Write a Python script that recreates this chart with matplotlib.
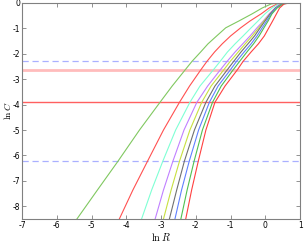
import matplotlib
matplotlib.use("Agg")
import matplotlib.pyplot as plt

plt.rcParams['mathtext.fontset'] = 'cm'
plt.rcParams['axes.unicode_minus'] = False

# ln C levels shared by the traced curves (last point is the plateau at ln R = 1)
lnC = [-8.50, -7.36, -6.23, -5.00, -3.91, -3.27, -2.64, -2.30, -1.93, -1.61,
       -1.30, -0.98, -0.71, -0.43, -0.20, -0.04, 0.0, 0.0]

# ln R of each curve at those levels
lnR_1 = [-5.42, -4.83, -4.24, -3.62, -3.03, -2.68, -2.31, -2.11, -1.86, -1.65,
         -1.40, -1.14, -0.76, -0.38, -0.09, 0.17, 0.42, 1.0]
lnR_2 = [-4.20, -3.81, -3.39, -2.93, -2.47, -2.18, -1.86, -1.68, -1.46, -1.24,
         -1.00, -0.71, -0.44, -0.12, 0.11, 0.34, 0.51, 1.0]
lnR_3 = [-3.56, -3.27, -2.95, -2.58, -2.17, -1.88, -1.50, -1.30, -1.09, -0.87,
         -0.64, -0.41, -0.21, -0.01, 0.19, 0.38, 0.54, 1.0]
lnR_4 = [-3.17, -2.93, -2.66, -2.34, -1.97, -1.66, -1.30, -1.10, -0.87, -0.65,
         -0.44, -0.24, -0.06, 0.11, 0.28, 0.42, 0.60, 1.0]
lnR_5 = [-2.93, -2.71, -2.47, -2.17, -1.83, -1.56, -1.20, -1.01, -0.78, -0.58,
         -0.38, -0.19, -0.04, 0.14, 0.31, 0.45, 0.63, 1.0]
lnR_6 = [-2.76, -2.55, -2.33, -2.04, -1.71, -1.45, -1.10, -0.91, -0.70, -0.50,
         -0.31, -0.15, -0.01, 0.14, 0.29, 0.48, 0.65, 1.0]
lnR_7 = [-2.60, -2.41, -2.19, -1.92, -1.61, -1.36, -1.01, -0.83, -0.61, -0.41,
         -0.24, -0.09, 0.04, 0.17, 0.31, 0.50, 0.68, 1.0]
lnR_8 = [-2.43, -2.25, -2.05, -1.81, -1.52, -1.27, -0.93, -0.74, -0.53, -0.34,
         -0.18, -0.04, 0.08, 0.19, 0.34, 0.51, 0.71, 1.0]
lnR_9 = [-2.29, -2.12, -1.93, -1.71, -1.45, -1.16, -0.81, -0.64, -0.41, -0.20,
         -0.03, 0.10, 0.21, 0.32, 0.41, 0.54, 0.74, 1.0]

curves = [lnR_1, lnR_2, lnR_3, lnR_4, lnR_5, lnR_6, lnR_7, lnR_8, lnR_9]
colors = ['#80c860', '#ff5050', '#7fffd4', '#c080ff', '#c8e040',
          '#707070', '#6080ff', '#50c050', '#ff4040']

# horizontal reference levels
dashed_levels = [-2.30, -6.23]
pink_level = -2.64
red_level = -3.91

x_ticks = [-7, -6, -5, -4, -3, -2, -1, 0, 1]
y_ticks = [0, -1, -2, -3, -4, -5, -6, -7, -8]

fig = plt.figure(figsize=(3.05, 2.42), dpi=100)
ax = fig.add_axes([0.072, 0.095, 0.912, 0.893])

for yl in dashed_levels:
    ax.axhline(yl, color='#aab0ff', lw=0.9, ls=(0, (5, 3)))
ax.axhline(pink_level, color='#ffbcbc', lw=2.0)
ax.axhline(red_level, color='#ff6060', lw=1.0)

for xs, c in zip(curves, colors):
    ax.plot(xs, lnC, color=c, lw=0.8)

ax.set_xlim(-7, 1)
ax.set_ylim(-8.5, 0)
ax.set_xticks(x_ticks)
ax.set_yticks(y_ticks)
ax.tick_params(direction='in', labelsize=5.5, length=3, width=0.6, color='#808080',
               top=True, right=True, pad=1.5)
for s in ax.spines.values():
    s.set_color('#808080')
    s.set_linewidth(0.8)

ax.set_xlabel(r'$\ln R$', fontsize=7.5)
ax.set_ylabel(r'$\ln C$', fontsize=7)
ax.xaxis.set_label_coords(0.5, -0.055)
ax.yaxis.set_label_coords(-0.031, 0.5)

fig.savefig('out.png', dpi=100)
